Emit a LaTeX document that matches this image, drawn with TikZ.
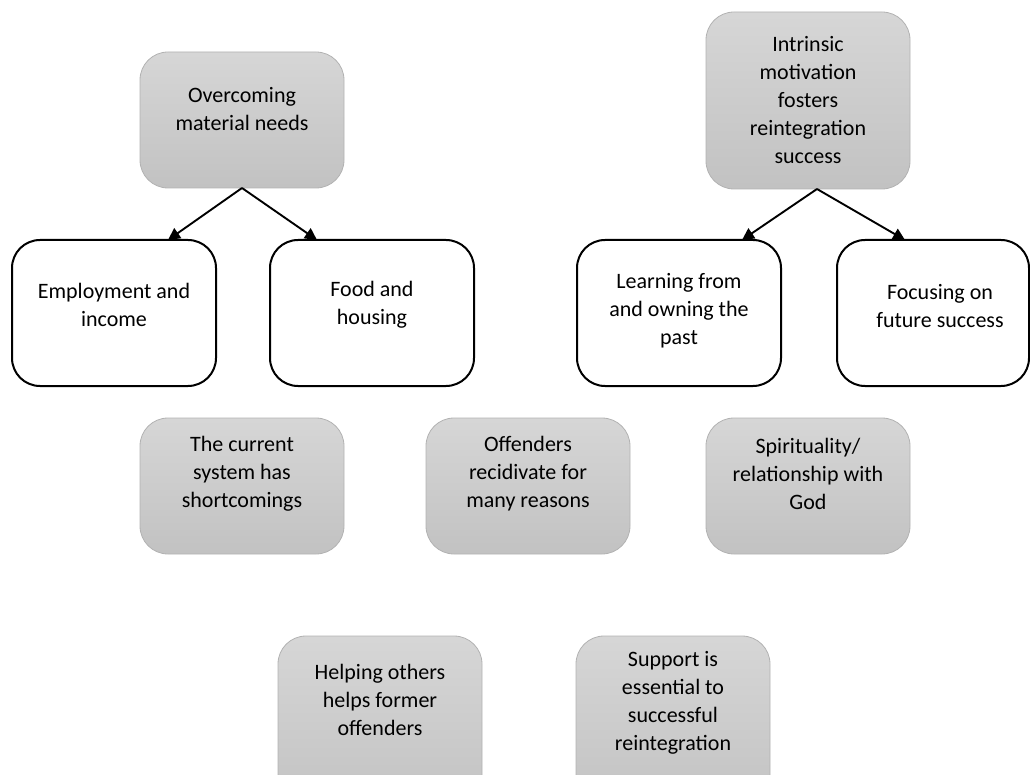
\documentclass[tikz,border=0pt]{standalone}
\usepackage{fontspec}
\setmainfont{Carlito}
\usetikzlibrary{arrows.meta}
\tikzset{
  graybox/.style={rounded corners=28pt, draw=black!30, line width=0.8pt, top color=black!16, bottom color=black!24, inner sep=0pt},
  whitebox/.style={rounded corners=28pt, draw=black, line width=2pt, fill=white, inner sep=0pt},
  txt/.style={align=center, font=\fontsize{22}{28}\selectfont, inner sep=0pt},
  arr/.style={line width=1.9pt, -{Triangle[length=12pt,width=12pt]}}
}
\begin{document}
\begin{tikzpicture}[x=1pt,y=-1pt]
\useasboundingbox (0,0) rectangle (1030,775);
\clip (0,0) rectangle (1030,775);
% gray boxes
\path[graybox] (140,52) rectangle (344,188) node[pos=0.5] (b1) {};
\path[graybox] (706,12) rectangle (910,189) node[pos=0.5] (b2) {};
\path[graybox] (140,418) rectangle (344,554) node[pos=0.5] (b3) {};
\path[graybox] (426,418) rectangle (630,554) node[pos=0.5] (b4) {};
\path[graybox] (706,418) rectangle (910,554) node[pos=0.5] (b5) {};
\path[graybox] (278,636) rectangle (482,815) node[pos=0.5] (b6) {};
\path[graybox] (576,636) rectangle (770,815) node[pos=0.5] (b7) {};
% white boxes
\path[whitebox] (12,240) rectangle (216,386) node[pos=0.5] (w1) {};
\path[whitebox] (270,240) rectangle (474,386) node[pos=0.5] (w2) {};
\path[whitebox] (577,240) rectangle (781,386) node[pos=0.5] (w3) {};
\path[whitebox] (837,240) rectangle (1029,386) node[pos=0.5] (w4) {};
% texts
\node[txt] (t1) at (242,109) {Overcoming\\material needs};
\node[txt] (t2) at (808,100) {Intrinsic\\motivation\\fosters\\reintegration\\success};
\node[txt] (t3) at (114,305) {Employment and\\income};
\node[txt] (t4) at (372,305) {Food and\\housing};
\node[txt] (t5) at (679,311) {Learning from\\and owning the\\past};
\node[txt] (t6) at (940,306) {Focusing on\\future success};
\node[txt] (t7) at (242,474) {The current\\system has\\shortcomings};
\node[txt] (t8) at (528,474) {Offenders\\recidivate for\\many reasons};
\node[txt] (t9) at (808,474) {Spirituality/\\relationship with\\God};
\node[txt] (t10) at (380,700) {Helping others\\helps former\\offenders};
\node[txt] (t11) at (673,703) {Support is\\essential to\\successful\\reintegration};
% connectors
\coordinate (a1) at (242,188);
\coordinate (e1) at (168,240);
\coordinate (e2) at (317,240);
\coordinate (a2) at (817,189);
\coordinate (e3) at (742,240);
\coordinate (e4) at (905,240);
\draw[arr] (a1) -- (e1);
\draw[arr] (a1) -- (e2);
\draw[arr] (a2) -- (e3);
\draw[arr] (a2) -- (e4);
\end{tikzpicture}
\end{document}
